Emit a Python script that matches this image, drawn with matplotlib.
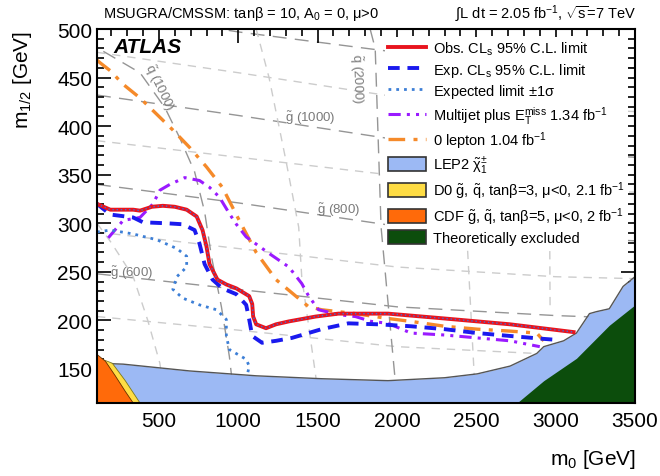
import matplotlib
matplotlib.use('Agg')
import matplotlib.pyplot as plt
from matplotlib.lines import Line2D
from matplotlib.patches import Patch
from matplotlib.ticker import MultipleLocator

plt.rcParams['font.family'] = ['Liberation Sans', 'DejaVu Sans']
plt.rcParams['mathtext.fontset'] = 'custom'
plt.rcParams['mathtext.rm'] = 'Liberation Sans'
plt.rcParams['mathtext.it'] = 'Liberation Sans:italic'
plt.rcParams['mathtext.bf'] = 'Liberation Sans:bold'
plt.rcParams['mathtext.default'] = 'regular'

# ---------------- data (m0, m1/2 in GeV) ----------------
obs_m0 = [110, 194, 338, 381, 456, 525, 600, 675, 738, 775, 800, 819, 869, 925, 988,
          1069, 1088, 1094, 1113, 1175, 1238, 1319, 1488, 1631, 1944, 2300, 2713, 3113]
obs_m12 = [320, 314, 314, 313, 317, 318, 317, 314, 307, 293, 276, 258, 242, 237, 233,
           225, 217, 204, 196, 192, 196, 199, 204, 207, 207, 202, 196, 188]

sigup_m0 = [110, 194, 338, 381, 456, 525, 600, 675, 738, 775, 800, 819, 869, 925, 988,
            1069, 1088, 1094, 1113, 1175, 1238, 1319, 1488, 1631, 1944, 2300, 2713, 3113]
sigup_m12 = [320, 314, 314, 313, 317, 318, 317, 314, 307, 293, 276, 258, 242, 237, 233,
             225, 217, 204, 196, 192, 196, 199, 204, 207, 207, 202, 196, 188]

exp_m0 = [110, 194, 338, 400, 550, 650, 725, 756, 788, 838, 900, 988, 1050, 1069, 1088,
          1150, 1238, 1338, 1525, 1694, 1881, 2088, 2300, 2506, 2713, 2925, 3006]
exp_m12 = [320, 309, 306, 301, 300, 299, 293, 279, 258, 242, 233, 227, 216, 201, 184,
           177, 179, 182, 191, 197, 196, 194, 191, 187, 184, 181, 180]

sigdn_m0 = [110, 194, 338, 488, 613, 675, 675, 613, 588, 650, 756, 863, 925, 925, 944,
            1050, 1069, 1056]
sigdn_m12 = [291, 293, 289, 283, 274, 266, 255, 245, 232, 223, 216, 211, 201, 184, 170,
             160, 153, 143]

mj_m0 = [181, 275, 381, 463, 506, 569, 663, 756, 819, 881, 944, 988, 1050, 1194, 1319,
         1400, 1444, 1506, 1631, 1738, 1838, 1944, 2088, 2300, 2506, 2713, 2900]
mj_m12 = [285, 303, 306, 320, 334, 340, 347, 344, 337, 327, 310, 299, 286, 269, 255,
          238, 225, 211, 206, 204, 199, 197, 187, 185, 182, 179, 173]

ol_m0 = [110, 131, 194, 275, 381, 488, 588, 694, 800, 900, 1000, 1113, 1238, 1363,
         1444, 1525, 1738, 1944, 2088, 2300, 2506, 2713, 2881, 2925]
ol_m12 = [468, 465, 457, 443, 429, 412, 396, 378, 358, 337, 305, 270, 242, 225,
          214, 211, 207, 202, 199, 194, 191, 189, 187, 179]

lep_m0 = [110, 275, 694, 1113, 1525, 1944, 2300, 2506, 2713, 2881, 2925, 3050, 3131,
          3213, 3256, 3338, 3425, 3500]
lep_m12 = [156, 155, 148, 143, 140, 138, 141, 145, 153, 166, 173, 179, 187,
           207, 209, 212, 235, 245]

th_m0 = [2756, 2925, 3131, 3338, 3500]
th_m12 = [115, 138, 161, 195, 216]

d0_m0 = [110, 206, 288, 381]
d0_m12 = [162, 156, 138, 115]

cdf_m0 = [110, 163, 225, 288, 338]
cdf_m12 = [165, 158, 143, 127, 115]

# iso-mass contours
gl_m0 = [110, 1000, 2000, 3000, 3500]
gl_masses = [500, 600, 700, 800, 900, 1000, 1100, 1200]
gl_m12 = {
    500: [204, 190, 173, 165, 163],
    600: [248, 232, 214, 205, 202],
    700: [291, 274, 255, 245, 243],
    800: [340, 321, 297, 285, 282],
    900: [385, 368, 349, 335, 332],
    1000: [432, 411, 386, 372, 368],
    1100: [476, 455, 430, 418, 415],
    1200: [520, 497, 476, 462, 460],
}
sq_lines = {
    800: ([110, 200, 338, 430, 506, 540], [300, 280, 245, 200, 156, 118]),
    1000: ([150, 381, 538, 631, 725, 788, 831, 894, 944, 975],
           [477, 455, 419, 388, 353, 312, 266, 214, 163, 118]),
    1500: ([1113, 1194, 1300, 1381, 1400, 1488, 1506], [500, 450, 365, 296, 245, 143, 118]),
    2000: ([1831, 1863, 1900, 1988, 1994], [500, 480, 296, 140, 118]),
    2500: ([2400, 2444, 2488, 2494], [350, 276, 140, 118]),
    3000: ([2950, 2963, 2965], [350, 276, 210]),
}
dark_gl = {600, 800, 1000, 1200}
dark_sq = {1000, 2000}

xmin, xmax, ymin, ymax = 110, 3500, 115, 500

fig = plt.figure(figsize=(6.6, 4.77), dpi=100)
ax = fig.add_axes([97/660, 1-404/477, 538/660, 374/477])

DARK, LIGHT = '#959595', '#cccccc'
for m in gl_masses:
    dark = m in dark_gl
    ax.plot(gl_m0, gl_m12[m], color=DARK if dark else LIGHT,
            lw=1.0, dashes=(10, 6) if dark else (6, 5), zorder=1)
for m, (xs, ys) in sq_lines.items():
    dark = m in dark_sq
    ax.plot(xs, ys, color=DARK if dark else LIGHT,
            lw=1.0, dashes=(10, 6) if dark else (6, 5), zorder=1)

lblc = '#7a7a7a'
ax.text(1456, 409, r'$\tilde{g}$ (1000)', color=lblc, fontsize=9.5, ha='center', va='center')
ax.text(1631, 314, r'$\tilde{g}$ (800)', color=lblc, fontsize=9.5, ha='center', va='center')
ax.text(330, 250, r'$\tilde{g}$ (600)', color=lblc, fontsize=9.5, ha='center', va='center')
ax.text(500, 440, r'$\tilde{q}$ (1000)', color=lblc, fontsize=9.5, ha='center', va='center', rotation=-64)
ax.text(1745, 450, r'$\tilde{q}$ (2000)', color=lblc, fontsize=9.5, ha='center', va='center', rotation=-88)

# excluded regions
ax.fill_between(lep_m0, lep_m12, ymin - 5, color='#9cb9f4', lw=0, zorder=2)
ax.plot(lep_m0, lep_m12, color='#555555', lw=1.0, zorder=2.1)
ax.fill_between(th_m0, th_m12, ymin - 5, color='#0c4d0c', lw=0, zorder=2.2)
ax.fill_between(d0_m0, d0_m12, ymin - 5, color='#ffdd44', lw=0, zorder=2.3)
ax.plot(d0_m0, d0_m12, color='#777722', lw=0.6, zorder=2.35)
ax.fill_between(cdf_m0, cdf_m12, ymin - 5, color='#ff6a0a', lw=0, zorder=2.4)
ax.plot(cdf_m0, cdf_m12, color='#663300', lw=0.6, zorder=2.45)

# limit lines
ax.plot(ol_m0, ol_m12, color='#f58a2a', lw=2.4, dashes=(5, 2.5, 1.2, 2.5), zorder=3)
ax.plot(mj_m0, mj_m12, color='#9a1aff', lw=2.2, dashes=(4, 2, 1, 2, 1, 2), zorder=3)
ax.plot(sigdn_m0, sigdn_m12, color='#3d7fd6', lw=2.0, dashes=(1, 1.8), zorder=3.5)
ax.plot(exp_m0, exp_m12, color='#1a1aee', lw=2.8, dashes=(3, 2), zorder=3.6)
ax.plot(obs_m0, obs_m12, color='#e8141e', lw=2.8, zorder=3.8)
ax.plot(sigup_m0, sigup_m12, color='#3d6fd6', lw=1.0, dashes=(1, 2), zorder=3.9)

ax.set_xlim(xmin, xmax)
ax.set_ylim(ymin, ymax)
ax.xaxis.set_major_locator(MultipleLocator(500))
ax.xaxis.set_minor_locator(MultipleLocator(100))
ax.yaxis.set_major_locator(MultipleLocator(50))
ax.yaxis.set_minor_locator(MultipleLocator(10))
ax.tick_params(which='both', direction='in', top=True, right=True, width=1.2, labelsize=15)
ax.tick_params(which='major', length=10)
ax.tick_params(which='minor', length=5)
for s in ax.spines.values():
    s.set_linewidth(1.5)
    s.set_zorder(10)
ax.tick_params(axis='x', pad=6)

fig.text(636/660, 1-460/477, r'm$_0$ [GeV]', fontsize=15, ha='right', va='center')
fig.text(22/660, 1-31/477, r'm$_{1/2}$ [GeV]', fontsize=15, ha='center', va='top', rotation=90)

fig.text(103/660, 1-14/477, r'MSUGRA/CMSSM: tan$\beta$ = 10, A$_0$ = 0, $\mu$>0',
         fontsize=10.5, ha='left', va='center')
fig.text(636/660, 1-14/477, r'$\int$L dt = 2.05 fb$^{-1}$, $\sqrt{s}$=7 TeV',
         fontsize=10.5, ha='right', va='center')
ax.text(0.03, 0.952, 'ATLAS', transform=ax.transAxes, fontsize=15, fontweight='bold',
        fontstyle='italic', ha='left', va='center', zorder=11)

handles = [
    Line2D([], [], color='#e8141e', lw=2.8),
    Line2D([], [], color='#1a1aee', lw=2.8, dashes=(3, 2)),
    Line2D([], [], color='#3d7fd6', lw=2.0, dashes=(1, 1.8)),
    Line2D([], [], color='#9a1aff', lw=2.2, dashes=(4, 2, 1, 2, 1, 2)),
    Line2D([], [], color='#f58a2a', lw=2.4, dashes=(5, 2.5, 1.2, 2.5)),
    Patch(facecolor='#9cb9f4', edgecolor='#333333', lw=1.2),
    Patch(facecolor='#ffdd44', edgecolor='#333333', lw=1.2),
    Patch(facecolor='#ff6a0a', edgecolor='#333333', lw=1.2),
    Patch(facecolor='#0c4d0c', edgecolor='#333333', lw=1.2),
]
labels = [
    r'Obs. CL$_s$ 95% C.L. limit',
    r'Exp. CL$_s$ 95% C.L. limit',
    r'Expected limit $\pm$1$\sigma$',
    r'Multijet plus E$_T^{miss}$ 1.34 fb$^{-1}$',
    r'0 lepton 1.04 fb$^{-1}$',
    r'LEP2 $\tilde{\chi}_1^{\pm}$',
    r'D0 $\tilde{g}$, $\tilde{q}$, tan$\beta$=3, $\mu$<0, 2.1 fb$^{-1}$',
    r'CDF $\tilde{g}$, $\tilde{q}$, tan$\beta$=5, $\mu$<0, 2 fb$^{-1}$',
    'Theoretically excluded',
]
leg = ax.legend(handles, labels, loc='upper left', bbox_to_anchor=(0.53, 0.987),
                fontsize=10.5, frameon=True, framealpha=1, edgecolor='none',
                facecolor='white', fancybox=False, borderpad=0.2,
                handlelength=2.6, handleheight=1.1, handletextpad=0.5,
                labelspacing=0.25, borderaxespad=0.2)
leg.set_zorder(9)

fig.savefig('out.png', dpi=100)
